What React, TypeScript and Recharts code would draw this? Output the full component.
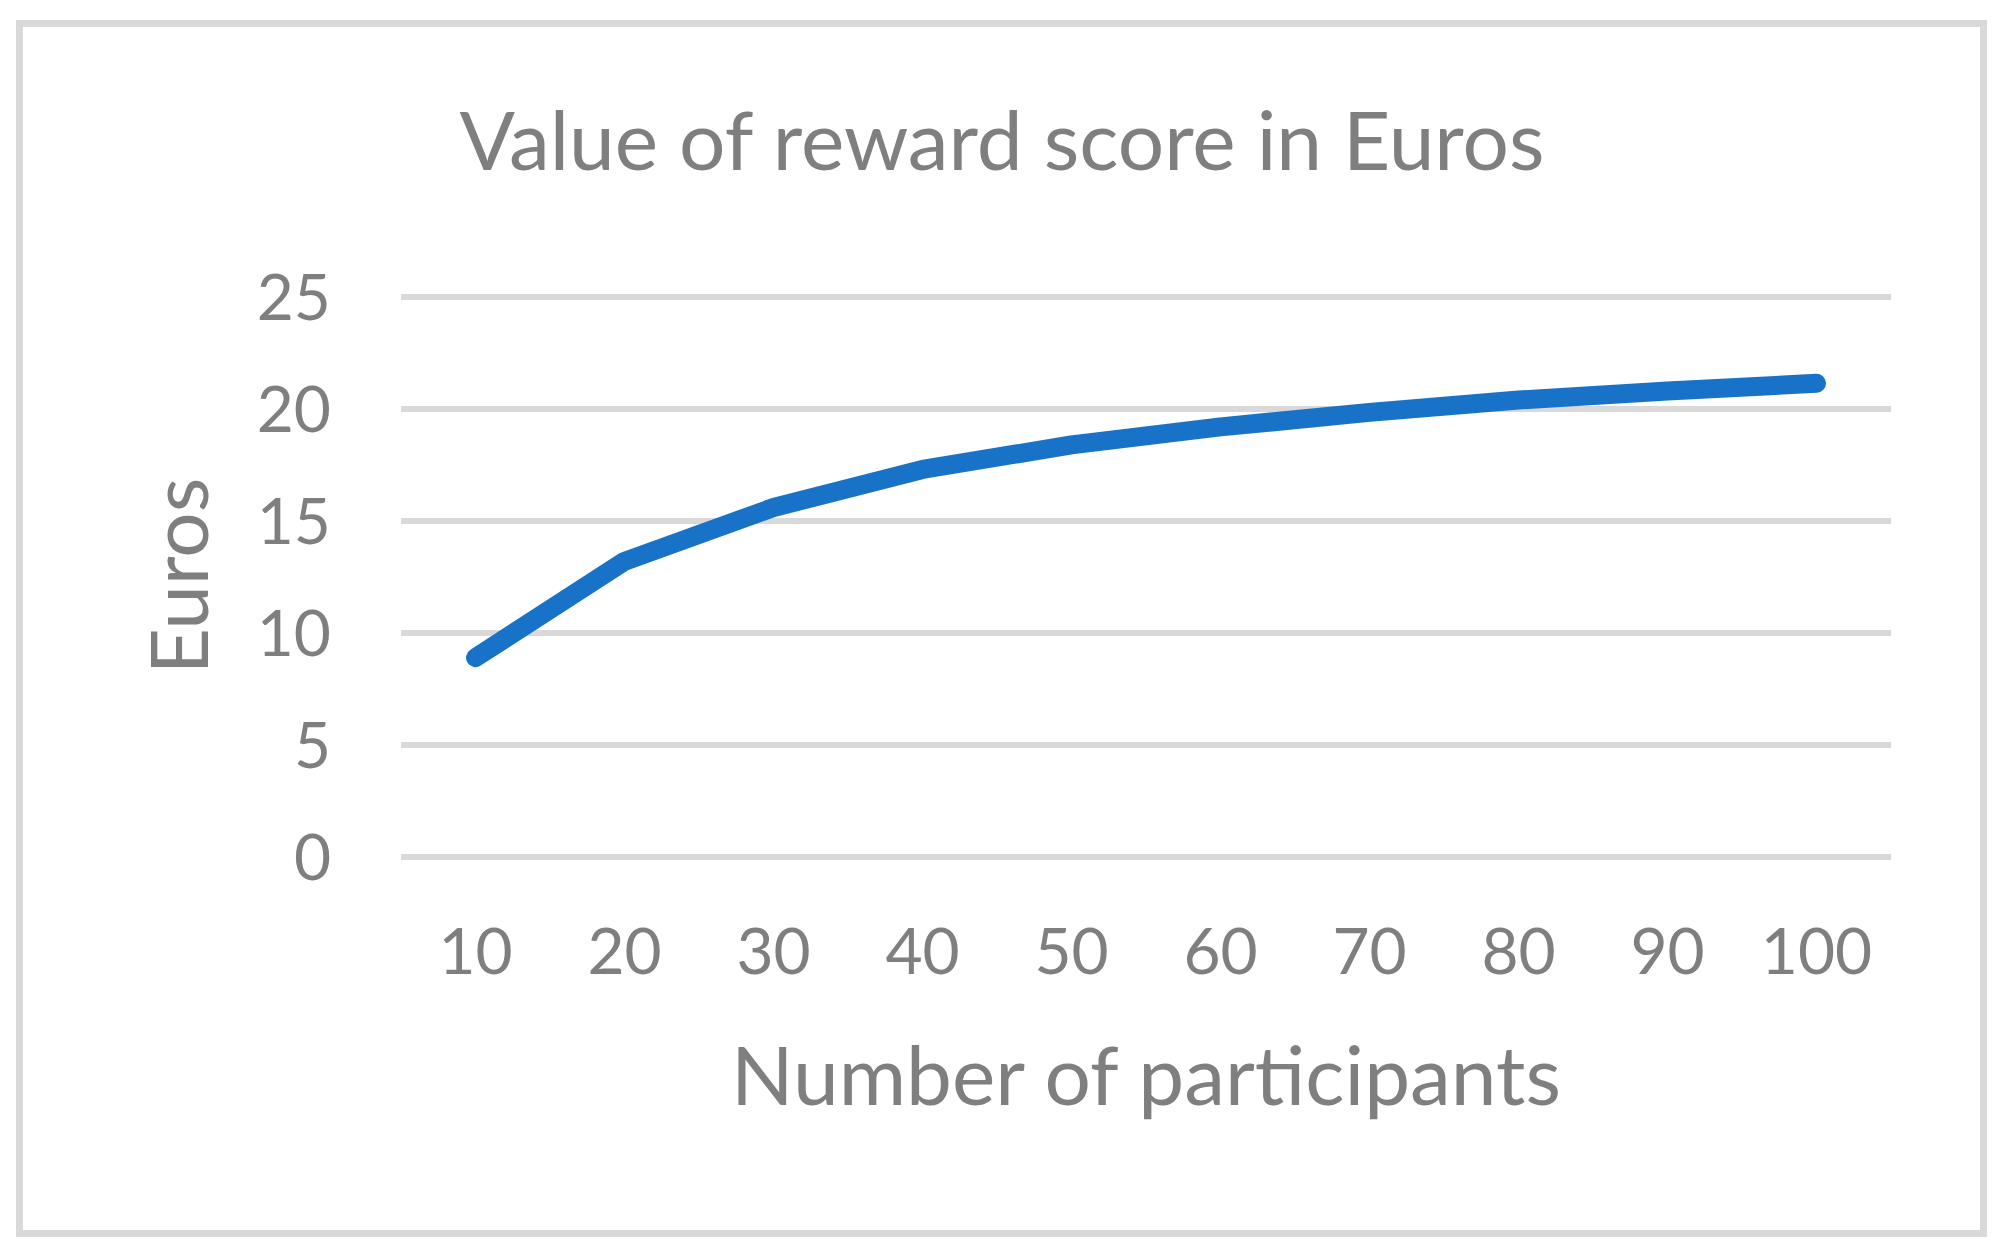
import React from 'react';
import { LineChart, Line, XAxis, YAxis, CartesianGrid } from 'recharts';

const participants = ['10', '20', '30', '40', '50', '60', '70', '80', '90', '100'];
const euros = [8.9, 13.2, 15.6, 17.3, 18.4, 19.2, 19.85, 20.4, 20.8, 21.15];
const yTicks = [0, 5, 10, 15, 20, 25];

const chartTitle = 'Value of reward score in Euros';
const xTitle = 'Number of participants';
const yTitle = 'Euros';

const data = participants.map((p, i) => ({ participants: p, euros: euros[i] }));

const FONT = 'Lato, "Open Sans", sans-serif';
const TEXT = '#7f7f7f';

export default function App() {
    return (
        <div
            style={{
                position: 'absolute',
                left: 0,
                top: 0,
                width: 2001,
                height: 1254,
                background: '#ffffff',
                fontFamily: FONT,
            }}
        >
            <div
                style={{
                    position: 'absolute',
                    left: 16,
                    top: 20,
                    width: 1971,
                    height: 1217,
                    boxSizing: 'border-box',
                    border: '7px solid #d9d9d9',
                }}
            />
            <LineChart
                width={2001}
                height={1254}
                data={data}
                margin={{ top: 297, right: 110, left: 301, bottom: 197 }}
                style={{ position: 'absolute', left: 0, top: 0 }}
            >
                {/* titles drawn straight into the svg */}
                <text x={1002} y={170} textAnchor="middle" fill={TEXT} fontSize={82} fontFamily={FONT}>
                    {chartTitle}
                </text>
                <text x={1146} y={1105} textAnchor="middle" fill={TEXT} fontSize={82} fontFamily={FONT}>
                    {xTitle}
                </text>
                <text
                    x={208}
                    y={576}
                    textAnchor="middle"
                    transform="rotate(-90 208 576)"
                    fill={TEXT}
                    fontSize={80}
                    fontFamily={FONT}
                >
                    {yTitle}
                </text>
                <CartesianGrid vertical={false} stroke="#d9d9d9" strokeWidth={6} />
                <XAxis
                    dataKey="participants"
                    height={200}
                    padding={{ left: 74.5, right: 74.5 }}
                    axisLine={false}
                    tickLine={false}
                    tickMargin={66}
                    tick={{ fill: TEXT, fontSize: 64, fontFamily: FONT }}
                    interval={0}
                />
                <YAxis
                    width={100}
                    domain={[0, 25]}
                    ticks={yTicks}
                    axisLine={false}
                    tickLine={false}
                    tickMargin={64}
                    tick={{ fill: TEXT, fontSize: 64, fontFamily: FONT }}
                />
                <Line
                    type="linear"
                    dataKey="euros"
                    stroke="#1873c8"
                    strokeWidth={19}
                    strokeLinecap="round"
                    strokeLinejoin="round"
                    dot={false}
                    activeDot={false}
                    isAnimationActive={false}
                />
            </LineChart>
        </div>
    );
}
